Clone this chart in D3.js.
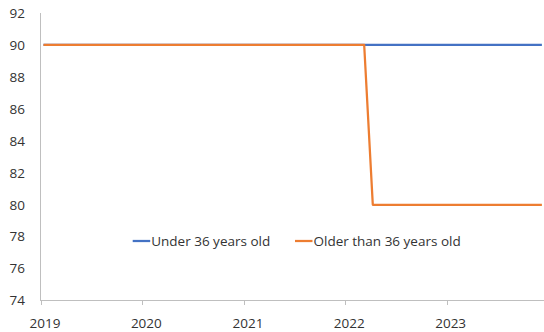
<!DOCTYPE html>
<html><head><meta charset="utf-8">
<script src="https://cdn.jsdelivr.net/npm/d3@7"></script>
<style>body{margin:0;background:#fff}svg{display:block}text{font-family:"Open Sans",sans-serif;fill:#333}</style>
</head><body><svg id="c" width="544" height="332"></svg>
<script>
// Monthly data, Jan 2019 – Dec 2023
const months = [];
for (let y = 2019; y <= 2023; y++) for (let m = 0; m < 12; m++) months.push(new Date(y, m, 10));
const under36 = [90,90,90,90,90,90,90,90,90,90,90,90, 90,90,90,90,90,90,90,90,90,90,90,90, 90,90,90,90,90,90,90,90,90,90,90,90, 90,90,90,90,90,90,90,90,90,90,90,90, 90,90,90,90,90,90,90,90,90,90,90,90];
const older36 = [90,90,90,90,90,90,90,90,90,90,90,90, 90,90,90,90,90,90,90,90,90,90,90,90, 90,90,90,90,90,90,90,90,90,90,90,90, 90,90,90,80,80,80,80,80,80,80,80,80, 80,80,80,80,80,80,80,80,80,80,80,80];
const yearTicks = [2019, 2020, 2021, 2022, 2023];
const yTicks = [74,76,78,80,82,84,86,88,90,92];
const seriesNames = ["Under 36 years old", "Older than 36 years old"];
const colors = ["#4472C4", "#ED7D31"];

const svg = d3.select("#c");
const x = d3.scaleTime().domain([new Date(2019,0,1), new Date(2024,0,1)]).range([41, 548]);
const y = d3.scaleLinear().domain([74, 92]).range([300.7, 13]);

// axes lines
svg.append("line").attr("x1", 40.5).attr("x2", 40.5).attr("y1", y(92)).attr("y2", y(74)+0.3).attr("stroke", "#BFBFBF");
svg.append("line").attr("x1", 40.5).attr("x2", 544).attr("y1", 300.5).attr("y2", 300.5).attr("stroke", "#BFBFBF");

// y labels
svg.selectAll(".yl").data(yTicks).enter().append("text")
  .attr("x", 25).attr("y", d => y(d)).attr("dy", "0.35em").attr("text-anchor", "end")
  .style("font-size", "13.5px").text(d => d);

// x ticks
svg.selectAll(".xt").data(yearTicks).enter().append("line")
  .attr("x1", d => Math.round(x(new Date(d,0,1))) + 0.5).attr("x2", d => Math.round(x(new Date(d,0,1))) + 0.5)
  .attr("y1", 300.5).attr("y2", 305).attr("stroke", "#BFBFBF");
svg.selectAll(".xl").data(yearTicks).enter().append("text")
  .attr("x", d => x(new Date(d,0,1)) + 4).attr("y", 323).attr("dy", "0.35em").attr("text-anchor", "middle")
  .style("font-size", "13.5px").text(d => d);

// lines
const line = d3.line().x((d,i) => x(months[i])).y(d => y(d));
[under36, older36].forEach((s, k) => {
  svg.append("path").datum(s).attr("d", line).attr("fill", "none")
    .attr("stroke", colors[k]).attr("stroke-width", 2.25).attr("stroke-linejoin", "round");
});

// legend
const legX = [132.7, 295];
seriesNames.forEach((n, k) => {
  svg.append("line").attr("x1", legX[k]).attr("x2", legX[k] + 17.5).attr("y1", 241).attr("y2", 241)
    .attr("stroke", colors[k]).attr("stroke-width", 2.25);
  svg.append("text").attr("x", legX[k] + 18.5).attr("y", 241).attr("dy", "0.35em")
    .style("font-size", "13.5px").text(n);
});
</script></body></html>
